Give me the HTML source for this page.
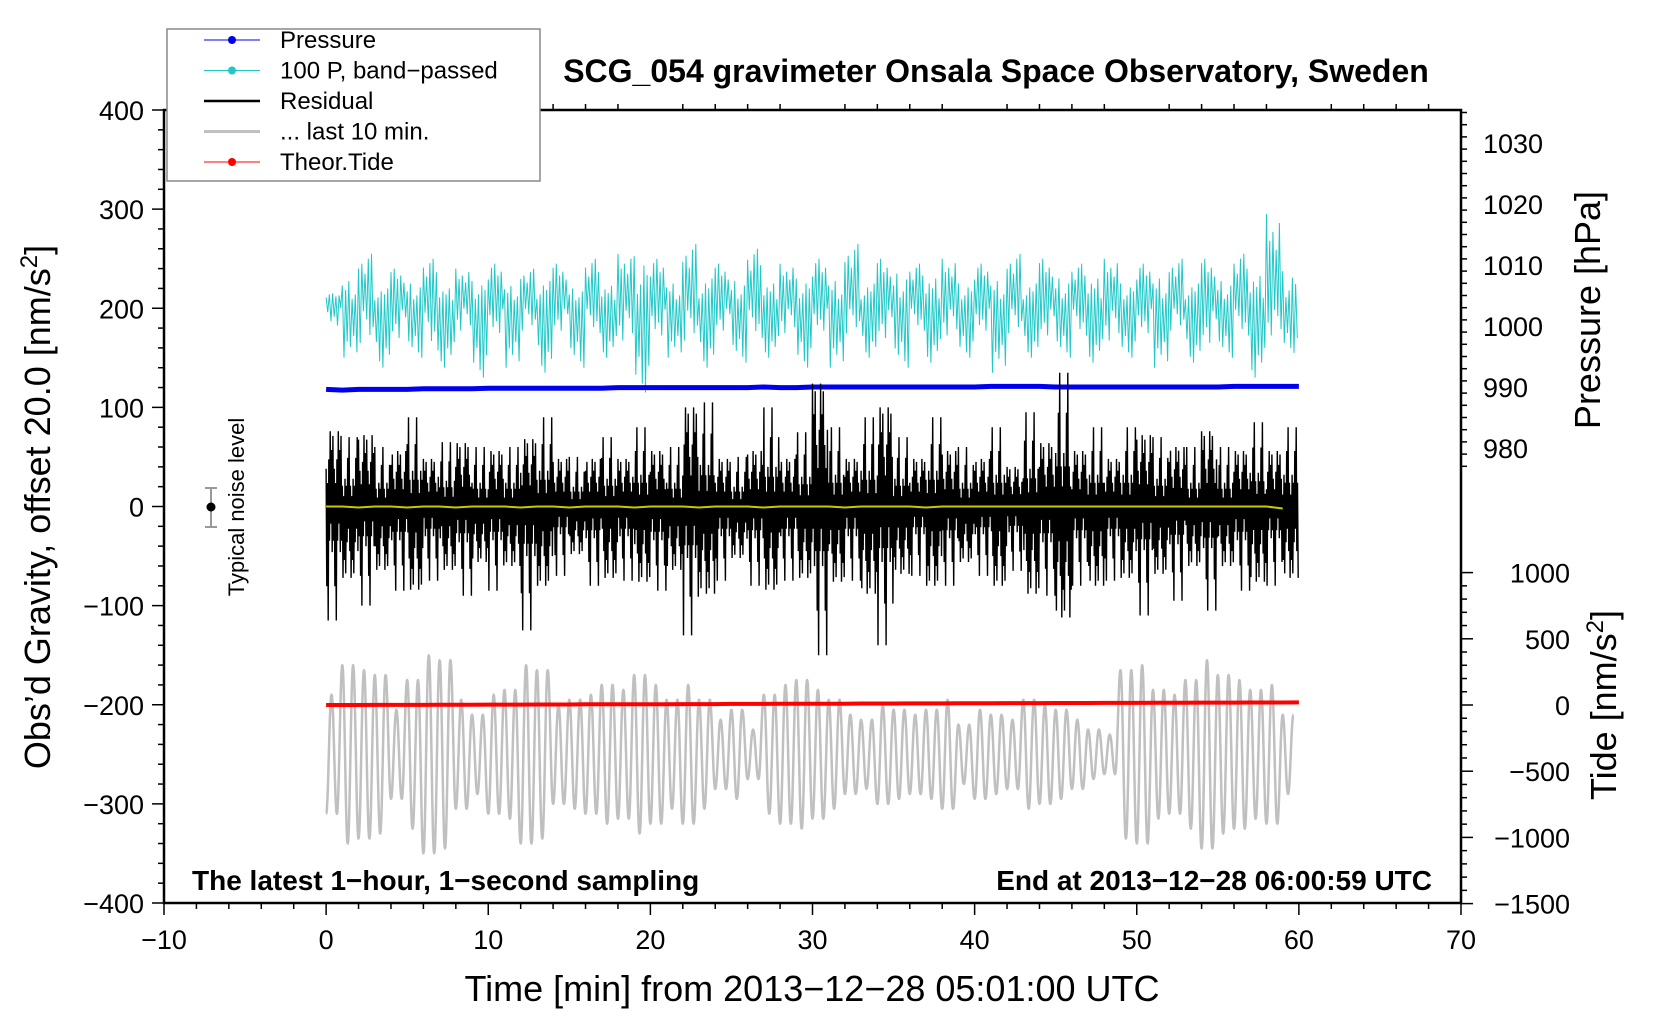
<!DOCTYPE html>
<html><head><meta charset="utf-8"><style>
html,body{margin:0;padding:0;background:#fff;}
svg{display:block;font-family:"Liberation Sans",sans-serif;}
</style></head><body>
<svg id="chart" width="1660" height="1020" viewBox="0 0 1660 1020">
<g id="plot"></g>
</svg>
<script>
// ---- data (per-minute envelopes) ----
const xTicks=[-10,0,10,20,30,40,50,60,70];
const yTicks=[400,300,200,100,0,-100,-200,-300,-400];
const pTicks=[1030,1020,1010,1000,990,980];
const tTicks=[1000,500,0,-500,-1000,-1500];
const resHi=[95,70,90,60,70,90,60,65,80,60,70,60,85,90,60,50,60,70,60,80,70,60,125,105,60,50,70,100,60,75,155,80,60,90,125,70,60,90,70,60,60,80,50,95,80,135,70,80,60,80,90,70,75,60,95,60,70,85,70,80];
const resLo=[-115,-90,-100,-80,-85,-105,-75,-80,-90,-70,-85,-75,-125,-100,-70,-60,-80,-90,-75,-95,-85,-80,-130,-110,-75,-65,-80,-105,-75,-90,-150,-95,-75,-110,-140,-85,-70,-100,-80,-70,-70,-100,-65,-110,-90,-140,-80,-100,-75,-90,-110,-85,-95,-75,-105,-75,-85,-95,-80,-90];
const cyHi=[215,250,255,235,240,245,250,235,240,250,245,240,240,250,245,235,250,240,255,300,250,245,265,255,245,250,260,245,245,255,250,250,265,245,250,265,245,255,250,245,245,250,255,245,250,255,245,255,250,245,245,255,250,245,250,250,255,260,295,270];
const cyLo=[160,150,125,140,135,150,110,140,150,130,145,140,150,135,150,140,145,150,130,115,140,150,130,140,150,145,135,150,145,140,150,140,145,150,135,140,150,145,140,150,150,135,145,150,140,150,140,145,130,150,145,140,150,145,125,150,140,130,140,155];
const grAmp=[60,90,85,80,45,75,100,95,55,40,60,65,90,85,50,55,60,70,65,80,70,55,70,55,35,45,25,60,70,75,65,55,40,35,50,45,40,45,55,30,45,40,35,55,50,45,35,25,20,85,90,65,60,75,95,80,75,65,70,40];
const pressure=[989.6,989.5,989.6,989.6,989.6,989.6,989.7,989.7,989.7,989.7,989.8,989.8,989.8,989.8,989.8,989.8,989.8,989.8,989.9,989.9,989.9,989.9,989.9,989.9,989.9,989.9,989.9,990.0,989.9,989.9,990.0,990.0,990.0,990.0,990.0,990.0,990.0,990.0,990.0,990.0,990.0,990.1,990.1,990.1,990.1,990.0,990.0,990.0,990.0,990.0,990.0,990.0,990.0,990.0,990.0,990.0,990.1,990.1,990.1,990.1,990.1];
const tide=[0,0,0,1,1,1,1,2,2,2,3,3,3,4,4,4,5,5,5,6,6,6,7,7,7,8,8,8,9,9,10,10,10,11,11,11,12,12,12,13,13,13,14,14,14,15,15,15,16,16,16,17,17,17,18,18,18,19,19,19,20];
const mean=[0,0,-1,0,0,-1,0,0,-1,0,0,0,-1,0,0,-1,0,0,0,-1,0,0,0,-1,0,0,0,-1,0,0,0,0,-1,0,0,0,0,-1,0,0,0,0,0,0,0,0,0,0,0,0,0,0,0,0,0,0,0,0,0,-2];
// ---- axes ----
const X0=164,X1=1461,Y0=110,Y1=903;
const sx=v=>X0+(v+10)/80*(X1-X0);
const sy=v=>Y0+(400-v)/800*(Y1-Y0);
const sp=v=>387+(990-v)*6.1;
const st=v=>705-v*0.1324;
const NS="http://www.w3.org/2000/svg";
const g=document.getElementById('plot');
function el(t,a,txt){const e=document.createElementNS(NS,t);for(const k in a)e.setAttribute(k,a[k]);if(txt!==undefined)e.textContent=txt;g.appendChild(e);return e;}
function line(x1,y1,x2,y2,c,w){return el('line',{x1,y1,x2,y2,stroke:c,'stroke-width':w});}

// cyan band-passed
let d='';
for(let m=0;m<cyHi.length;m++){const n=10;for(let k=0;k<n;k++){const t=m+k/n;const f=[0.6,0.2,0.9,0.4,1,0.3,0.7,0.5,0.8,0.1][(k+m*3)%10];const v=(k%2===0)?205+(cyHi[m]-205)*f:205-(205-cyLo[m])*f;d+=(d?'L':'M')+sx(t).toFixed(1)+','+sy(v).toFixed(1);}}
let e=el('path',{d,fill:'none',stroke:'#22c8c8','stroke-width':1});


// pressure
d='';pressure.forEach((p,i)=>{d+=(i?'L':'M')+sx(i).toFixed(1)+','+sp(p).toFixed(1);});
e=el('path',{d,fill:'none',stroke:'#0000ee','stroke-width':5});


// residual
d='';
for(let m=0;m<resHi.length;m++){const n=24;for(let k=0;k<n;k++){const t=m+k/n;const f=[0.4,0.7,0.25,1,0.5,0.3,0.8,0.15,0.6,0.4,0.75,0.3][(k+m*5)%12];const v=(k%2===0)?resHi[m]*f:resLo[m]*f;d+=(d?'L':'M')+sx(t).toFixed(1)+','+sy(v).toFixed(1);}}
e=el('path',{d,fill:'none',stroke:'#000','stroke-width':1.4});


// yellow mean
d='';mean.forEach((v,i)=>{d+=(i?'L':'M')+sx(i).toFixed(1)+','+sy(v).toFixed(1);});
e=el('path',{d,fill:'none',stroke:'#c8c800','stroke-width':2});


// gray last 10 min (smoothed with horizontal bezier handles)
d='';let px=null,py=null;
for(let m=0;m<grAmp.length;m++){const n=3;for(let k=0;k<n;k++){const t=m+k/n;const x=sx(t),y=sy(-250+((m*n+k)%2===0?-grAmp[m]:grAmp[m]));
if(px===null)d='M'+x.toFixed(1)+','+y.toFixed(1);else{const h=(x-px)*0.4;d+='C'+(px+h).toFixed(1)+','+py.toFixed(1)+' '+(x-h).toFixed(1)+','+y.toFixed(1)+' '+x.toFixed(1)+','+y.toFixed(1);}
px=x;py=y;}}
e=el('path',{d,fill:'none',stroke:'#c0c0c0','stroke-width':2.5,'stroke-linejoin':'round'});


// tide
d='';tide.forEach((v,i)=>{d+=(i?'L':'M')+sx(i).toFixed(1)+','+st(v).toFixed(1);});
e=el('path',{d,fill:'none',stroke:'#ff0000','stroke-width':4});


// frame
e=el('rect',{x:X0,y:Y0,width:X1-X0,height:Y1-Y0,fill:'none',stroke:'#000','stroke-width':2.5});


// x ticks
for(let v=-10;v<=70;v+=2){const x=sx(v);const maj=v%10===0;line(x,Y1,x,Y1+(maj?12:6),'#000',1.5);line(x,Y0,x,Y0-(maj?0:6),'#000',1.5);}
xTicks.forEach(v=>{const t=el('text',{x:sx(v),y:Y1+46,'font-size':27,'text-anchor':'middle'},String(v).replace('-','\u2212'));});
// y ticks
for(let v=-400;v<=400;v+=20){const y=sy(v);const maj=v%100===0;line(X0,y,X0-(maj?12:6),y,'#000',1.5);}
yTicks.forEach(v=>{const t=el('text',{x:X0-20,y:sy(v)+10,'font-size':27,'text-anchor':'end'},String(v).replace('-','\u2212'));});
// pressure ticks
for(let v=975;v<=1035;v+=2){const y=sp(v);if(y<Y0||y>470)continue;const maj=v%10===0;line(X1,y,X1+(maj?12:6),y,'#000',1.5);}
pTicks.forEach(v=>{const t=el('text',{x:X1+22,y:sp(v)+10,'font-size':27},String(v));});
// tide ticks
for(let v=-1500;v<=1000;v+=100){const y=st(v);const maj=v%500===0;line(X1,y,X1+(maj?12:6),y,'#000',1.5);}
tTicks.forEach(v=>{const t=el('text',{x:1570,y:st(v)+10,'font-size':27,'text-anchor':'end'},String(v).replace('-','\u2212'));});

// noise marker
line(211,488,211,527,'#999',2);line(205,488,217,488,'#999',2);line(205,527,217,527,'#999',2);
e=el('circle',{cx:211,cy:507,r:4.5,fill:'#000'});
e=el('text',{x:0,y:0,'font-size':22,'text-anchor':'middle',transform:'translate(244,507) rotate(-90)'},'Typical noise level');

// texts
e=el('text',{x:996,y:82,'font-size':32,'font-weight':'bold','text-anchor':'middle'},'SCG_054 gravimeter Onsala Space Observatory, Sweden');
e=el('text',{x:192,y:890,'font-size':28,'font-weight':'bold'},'The latest 1\u2212hour, 1\u2212second sampling');
e=el('text',{x:1432,y:890,'font-size':28,'font-weight':'bold','text-anchor':'end'},'End at 2013\u221212\u221228 06:00:59 UTC');
e=el('text',{x:812,y:1001,'font-size':36,'text-anchor':'middle'},'Time [min] from 2013\u221212\u221228 05:01:00 UTC');
e=el('text',{x:0,y:0,'font-size':36,'text-anchor':'middle',transform:'translate(50,507) rotate(-90)'});
e.innerHTML='Obs\u2019d Gravity, offset 20.0 [nm/s<tspan dy="-13" font-size="24">2</tspan><tspan dy="13">]</tspan>';
e=el('text',{x:0,y:0,'font-size':36,'text-anchor':'middle',transform:'translate(1600,310) rotate(-90)'},'Pressure [hPa]');
e=el('text',{x:0,y:0,'font-size':36,'text-anchor':'middle',transform:'translate(1616,705) rotate(-90)'});
e.innerHTML='Tide [nm/s<tspan dy="-13" font-size="24">2</tspan><tspan dy="13">]</tspan>';

// legend
e=el('rect',{x:167,y:29,width:373,height:152,fill:'#fff',stroke:'#888','stroke-width':1.5});
const leg=[['Pressure','#0000ee',1,true],['100 P, band\u2212passed','#22c8c8',1,true],['Residual','#000',2.5,false],['... last 10 min.','#c0c0c0',3,false],['Theor.Tide','#ff0000',1,true]];
leg.forEach((l,i)=>{const y=40+i*30.5;line(204,y,260,y,l[1],l[2]);if(l[3]){el('circle',{cx:232,cy:y,r:4,fill:l[1]});}
const t=el('text',{x:280,y:y+8,'font-size':24},l[0]);});
</script>
</body></html>
